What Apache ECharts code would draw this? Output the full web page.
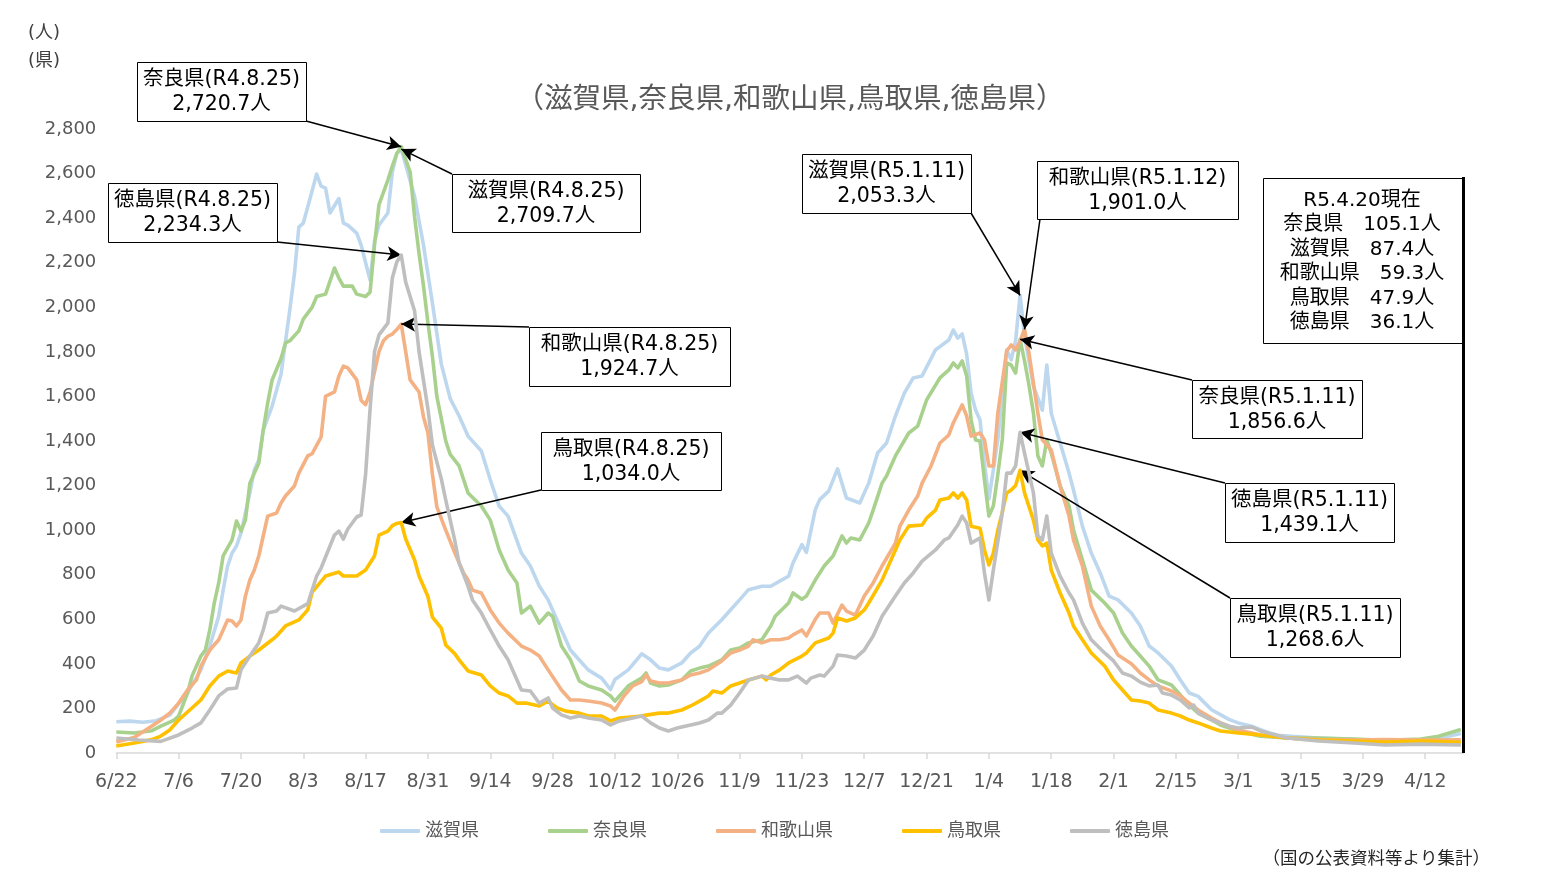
<!DOCTYPE html>
<html><head><meta charset="utf-8">
<script src="https://cdn.jsdelivr.net/npm/echarts/dist/echarts.min.js"></script>
<style>html,body{margin:0;padding:0;background:#fff}#c{width:1543px;height:877px}</style>
</head><body><div id="c"></div>
<script>
// ---------- data ----------
// x value = days since 2022-06-22 (R4.6.22)
const tickLabels = ['6/22','7/6','7/20','8/3','8/17','8/31','9/14','9/28','10/12','10/26','11/9','11/23','12/7','12/21','1/4','1/18','2/1','2/15','3/1','3/15','3/29','4/12'];
const seriesNames = ['滋賀県','奈良県','和歌山県','鳥取県','徳島県'];

const shiga = [[0,140],[3,143],[6,138],[9,145],[12,170],[14,220],[16,270],[19,373],[21,480],[23,614],[24,731],[25,839],[26,897],[27,929],[28,987],[30,1167],[31,1270],[32,1315],[33,1449],[35,1557],[37,1700],[39,1992],[40,2149],[41,2360],[42,2378],[43,2450],[45,2598],[46,2544],[47,2535],[48,2423],[50,2488],[51,2378],[52,2369],[54,2333],[55,2279],[56,2200],[57,2122],[58,2297],[59,2369],[61,2423],[62,2607],[63,2690],[64,2709.7],[65,2640],[67,2497],[69,2279],[71,2019],[73,1745],[75,1590],[77,1512],[79,1422],[82,1355],[84,1226],[86,1108],[88,1063],[91,897],[93,839],[95,749],[97,687],[100,552],[102,462],[104,417],[106,373],[109,336],[111,285],[112,330],[115,373],[118,445],[120,418],[122,381],[124,373],[127,404],[129,449],[131,479],[133,538],[136,598],[138,643],[140,687],[142,733],[145,748],[147,748],[149,771],[151,793],[152,853],[154,935],[155,900],[157,1092],[158,1137],[160,1175],[162,1275],[164,1144],[167,1122],[169,1211],[171,1346],[173,1391],[175,1512],[177,1615],[179,1683],[181,1692],[184,1809],[187,1853],[188,1898],[189,1862],[190,1880],[191,1790],[192,1615],[193,1539],[194,1494],[195,1300],[196,1140],[198,1405],[200,1809],[201,1764],[202,1850],[203,2053.3],[204,1871],[206,1646],[208,1539],[209,1741],[210,1525],[212,1391],[214,1256],[215,1180],[217,1018],[219,897],[221,808],[223,704],[225,687],[228,628],[230,570],[232,480],[234,449],[237,390],[239,328],[241,269],[243,254],[246,194],[248,172],[250,150],[252,135],[255,120],[257,105],[259,90],[261,80],[264,75],[270,67],[278,60],[285,52],[293,57],[298,70],[302,87.4]];

const nara = [[0,94],[4,90],[8,100],[10,121],[13,148],[14,166],[16,269],[17,345],[19,435],[20,462],[21,552],[22,673],[23,763],[24,884],[26,956],[27,1041],[28,996],[29,1045],[30,1211],[32,1300],[33,1449],[34,1570],[35,1674],[37,1770],[38,1840],[39,1850],[41,1894],[42,1947],[44,2001],[45,2048],[47,2059],[49,2176],[50,2131],[51,2095],[53,2095],[54,2059],[56,2048],[57,2068],[58,2279],[59,2461],[61,2571],[62,2634],[63,2690],[64,2720.7],[66,2607],[67,2405],[68,2241],[69,2095],[70,1930],[71,1780],[72,1600],[73,1500],[74,1400],[75,1340],[77,1288],[79,1167],[82,1108],[84,1045],[86,911],[88,821],[90,763],[91,628],[93,659],[95,583],[97,628],[98,614],[100,480],[102,418],[104,323],[106,301],[109,283],[111,256],[112,233],[113,256],[115,301],[118,336],[119,359],[120,314],[122,301],[124,305],[127,328],[129,368],[131,381],[133,390],[136,418],[138,462],[140,471],[142,494],[145,508],[147,570],[148,614],[151,673],[152,718],[154,690],[155,704],[157,776],[159,839],[161,884],[163,974],[164,942],[165,965],[167,956],[169,1032],[170,1090],[172,1211],[173,1243],[175,1333],[178,1436],[180,1467],[182,1584],[185,1683],[187,1719],[188,1750],[189,1728],[190,1759],[191,1692],[192,1494],[193,1405],[194,1400],[195,1225],[196,1063],[197,1108],[198,1250],[199,1405],[200,1750],[201,1741],[202,1705],[203,1856.6],[204,1760],[205,1650],[206,1525],[207,1333],[208,1288],[209,1405],[210,1346],[212,1198],[214,1108],[215,1001],[217,866],[219,731],[222,673],[224,628],[226,538],[228,480],[230,435],[232,390],[234,328],[237,305],[239,260],[241,215],[243,179],[246,148],[248,126],[252,99],[257,75],[263,67],[270,67],[278,63],[285,57],[293,63],[297,75],[302,105.1]];

const wakayama = [[0,49],[4,70],[8,121],[10,148],[12,179],[14,224],[16,283],[18,328],[19,390],[21,462],[23,508],[24,552],[25,597],[26,592],[27,570],[28,597],[29,704],[30,776],[31,821],[32,884],[34,1063],[36,1077],[37,1122],[38,1153],[40,1198],[41,1256],[43,1333],[44,1343],[46,1418],[47,1600],[49,1620],[50,1692],[51,1736],[52,1728],[54,1674],[55,1582],[56,1563],[57,1620],[59,1801],[60,1850],[61,1870],[62,1880],[63,1900],[64,1924.7],[65,1801],[66,1674],[68,1620],[69,1508],[70,1436],[71,1252],[72,1104],[74,1000],[76,900],[78,808],[79,776],[80,731],[82,718],[84,642],[86,583],[88,538],[91,480],[93,462],[95,435],[97,373],[100,283],[102,238],[104,238],[106,233],[109,224],[111,211],[112,193],[114,256],[116,301],[118,320],[119,350],[120,323],[122,314],[124,314],[127,328],[129,350],[131,359],[133,373],[136,413],[138,449],[140,462],[142,480],[143,508],[145,494],[147,508],[149,508],[151,516],[152,530],[154,552],[155,525],[157,600],[158,628],[160,628],[161,583],[163,664],[164,637],[166,619],[168,704],[170,763],[172,839],[175,942],[176,1018],[178,1090],[180,1153],[181,1211],[183,1288],[185,1391],[187,1427],[188,1481],[190,1562],[191,1512],[192,1422],[194,1436],[195,1405],[196,1288],[197,1288],[198,1525],[200,1804],[201,1831],[202,1809],[203,1849],[204,1901.0],[205,1795],[207,1525],[208,1405],[209,1382],[210,1360],[212,1198],[214,1063],[215,956],[217,839],[219,659],[221,570],[223,508],[225,440],[228,400],[230,359],[232,328],[234,301],[237,278],[239,256],[241,224],[243,193],[246,157],[248,135],[252,103],[257,81],[263,67],[270,60],[278,58],[285,60],[293,58],[302,59.3]];

const tottori = [[0,31],[4,45],[8,60],[10,76],[12,103],[14,148],[17,202],[19,238],[21,301],[23,345],[25,368],[27,359],[28,404],[30,435],[32,462],[35,508],[36,525],[38,570],[41,597],[43,642],[44,722],[47,794],[50,812],[51,794],[54,794],[56,821],[58,884],[59,978],[61,996],[62,1020],[63,1030],[64,1034.0],[65,960],[67,866],[68,794],[70,702],[71,610],[73,560],[74,485],[76,446],[77,418],[79,368],[82,350],[84,301],[86,269],[88,256],[90,224],[92,224],[95,211],[97,233],[99,202],[101,188],[104,179],[106,166],[109,166],[111,144],[113,157],[118,166],[119,170],[122,179],[124,179],[127,193],[129,211],[131,233],[133,256],[134,278],[136,269],[138,301],[140,314],[142,328],[145,345],[146,328],[147,350],[149,373],[151,404],[154,435],[155,449],[157,494],[160,516],[161,538],[162,606],[164,592],[166,606],[168,642],[169,673],[172,776],[174,866],[176,956],[178,1018],[181,1023],[182,1054],[184,1090],[185,1135],[187,1144],[188,1167],[189,1144],[190,1167],[191,1135],[192,1018],[194,1009],[195,911],[196,844],[197,897],[198,1000],[199,1080],[200,1167],[201,1180],[202,1200],[203,1268.6],[204,1167],[206,1045],[207,956],[208,929],[209,942],[210,821],[212,718],[214,628],[215,570],[217,508],[219,449],[222,390],[224,328],[226,283],[228,238],[230,233],[232,224],[234,193],[237,179],[239,166],[241,148],[243,135],[246,112],[248,99],[252,90],[257,81],[263,67],[270,58],[278,54],[285,49],[293,54],[302,47.9]];

const tokushima = [[0,67],[5,58],[10,52],[14,81],[17,112],[19,135],[21,193],[23,256],[25,287],[27,292],[28,373],[30,435],[32,494],[33,552],[34,628],[36,637],[37,659],[40,637],[42,659],[43,670],[45,794],[46,830],[49,978],[50,996],[51,960],[52,1005],[54,1059],[55,1068],[56,1252],[57,1543],[58,1801],[59,1876],[61,1929],[62,2131],[63,2203],[64,2234.3],[65,2113],[67,1983],[68,1801],[70,1543],[71,1382],[73,1230],[74,1135],[76,956],[77,852],[79,749],[80,687],[82,628],[84,552],[86,480],[88,418],[91,283],[93,278],[95,224],[97,247],[98,202],[100,171],[102,157],[104,166],[106,157],[109,148],[111,126],[113,144],[118,166],[120,135],[122,112],[124,99],[126,112],[129,126],[131,135],[133,148],[135,179],[136,179],[138,215],[140,269],[142,328],[145,345],[147,336],[149,328],[151,328],[153,345],[155,314],[156,336],[158,350],[159,345],[161,390],[162,440],[164,435],[166,426],[168,462],[170,525],[172,614],[175,704],[177,763],[179,808],[181,861],[184,911],[186,956],[187,965],[189,1023],[190,1063],[191,1032],[192,942],[194,965],[195,808],[196,687],[197,821],[199,1077],[200,1256],[201,1256],[202,1288],[203,1439.1],[204,1346],[206,1167],[207,974],[208,956],[209,1063],[210,897],[212,794],[214,718],[215,687],[217,583],[219,508],[222,449],[224,413],[226,359],[228,345],[230,318],[232,301],[234,305],[235,269],[237,260],[239,238],[241,202],[242,215],[243,179],[246,148],[248,135],[250,120],[252,112],[255,117],[257,99],[263,67],[270,54],[278,45],[285,36],[293,40],[302,36.1]];

// peak annotations: series index, day, value, date label
const noteSeries = [1,0,4,2,3,0,2,1,4,3];
const noteDays   = [64,64,64,64,64,203,204,203,203,203];
const noteValues = [2720.7,2709.7,2234.3,1924.7,1034.0,2053.3,1901.0,1856.6,1439.1,1268.6];
const noteDates  = ['R4.8.25','R4.8.25','R4.8.25','R4.8.25','R4.8.25','R5.1.11','R5.1.12','R5.1.11','R5.1.11','R5.1.11'];

// latest values box
const latestTitle = 'R5.4.20現在';
const latestNames = ['奈良県','滋賀県','和歌山県','鳥取県','徳島県'];
const latestValues = [105.1,87.4,59.3,47.9,36.1];
const lastDay = 302.6;

// ---------- layout / style ----------
const FONT = "'DejaVu Sans','Noto Sans CJK JP',sans-serif";
const colors = ['#BDD7EE','#A9D18E','#F4B183','#FFC000','#BFBFBF'];
const seriesData = [shiga, nara, wakayama, tottori, tokushima];
// box [left, top, right, bottom], arrow start [x,y]
const noteBoxes = [
  [137,62,306,121, 306,121],
  [452,174,640,232, 452,174],
  [108,183,277,242, 277,242],
  [529,327,730,386, 529,327],
  [541,432,721,490, 541,490],
  [802,154,971,213, 971,213],
  [1037,161,1238,219, 1040,219],
  [1192,380,1362,438, 1192,380],
  [1225,483,1394,542, 1225,483],
  [1230,598,1400,657, 1230,598]
];
const legendLefts = [380,548,716,902,1070];

const fmt1 = v => v.toLocaleString('en-US',{minimumFractionDigits:1,maximumFractionDigits:1});

const chart = echarts.init(document.getElementById('c'));

const series = seriesNames.map((name,i)=>{
  const ml = [];
  noteSeries.forEach((s,k)=>{
    if (s!==i) return;
    const b = noteBoxes[k];
    ml.push([{x:b[4], y:b[5], symbol:'none'}, {coord:[noteDays[k], noteValues[k]], symbol:'arrow', symbolSize:[11,14]}]);
  });
  return {
    name, type:'line', data: seriesData[i], showSymbol:false, symbol:'none',
    lineStyle:{color:colors[i], width:3.6, join:'round'}, itemStyle:{color:colors[i]},
    z: 2+i, silent:true,
    markLine: ml.length ? {silent:true, symbol:['none','arrow'], label:{show:false},
      lineStyle:{color:'#000', width:1.5, type:'solid'}, emphasis:{disabled:true}, animation:false, data: ml} : undefined
  };
});

const graphics = [];
// annotation boxes
noteBoxes.forEach((b,k)=>{
  graphics.push({type:'rect', z:100, shape:{x:b[0]+0.5,y:b[1]+0.5,width:b[2]-b[0],height:b[3]-b[1]}, style:{fill:'#fff',stroke:'#000',lineWidth:1}});
  graphics.push({type:'text', z:101, x:(b[0]+b[2])/2, y:(b[1]+b[3])/2+1,
    style:{text: seriesNames[noteSeries[k]]+'('+noteDates[k]+')\n'+fmt1(noteValues[k])+'人', font:'20.5px '+FONT, fill:'#000',
      align:'center', verticalAlign:'middle', textAlign:'center', textVerticalAlign:'middle', lineHeight:25}});
});
// latest box
graphics.push({type:'rect', z:100, shape:{x:1263.5,y:178.5,width:200,height:165}, style:{fill:'#fff',stroke:'#000',lineWidth:1}});
graphics.push({type:'text', z:101, x:1362, y:262,
  style:{text:[latestTitle].concat(latestNames.map((n,i)=>n+'\u3000'+fmt1(latestValues[i])+'人')).join('\n'),
    font:'20px '+FONT, fill:'#000', align:'center', verticalAlign:'middle', textAlign:'center', textVerticalAlign:'middle', lineHeight:24.5}});
// title, units, source
graphics.push({type:'text', x:790, y:101, style:{text:'（滋賀県,奈良県,和歌山県,鳥取県,徳島県）', font:'28.5px '+FONT, fill:'#595959', align:'center', verticalAlign:'middle', textAlign:'center', textVerticalAlign:'middle'}});
graphics.push({type:'text', x:28, y:33, style:{text:'(人)', font:'18px '+FONT, fill:'#404040', verticalAlign:'middle', textVerticalAlign:'middle'}});
graphics.push({type:'text', x:28, y:61, style:{text:'(県)', font:'18px '+FONT, fill:'#404040', verticalAlign:'middle', textVerticalAlign:'middle'}});
graphics.push({type:'text', x:1490, y:859, style:{text:'（国の公表資料等より集計）', font:'17.5px '+FONT, fill:'#262626', align:'right', verticalAlign:'middle', textAlign:'right', textVerticalAlign:'middle'}});

chart.setOption({
  animation:false,
  backgroundColor:'#fff',
  grid:{left:116.3, right:1543-1463.5, top:129, bottom:124, containLabel:false},
  xAxis:{type:'value', min:0, max:lastDay, interval:14,
    axisLine:{show:true, lineStyle:{color:'#D9D9D9', width:1.5}},
    axisTick:{show:true, length:6, lineStyle:{color:'#D9D9D9', width:1.5}},
    splitLine:{show:false},
    axisLabel:{color:'#595959', fontSize:19, fontFamily:FONT, margin:20, showMaxLabel:false,
      formatter: v => tickLabels[Math.round(v/14)] || ''}},
  yAxis:{type:'value', min:0, max:2800, interval:200,
    axisLine:{show:false}, axisTick:{show:false}, splitLine:{show:false},
    axisLabel:{color:'#595959', fontSize:18, fontFamily:FONT, margin:20,
      formatter: v => v.toLocaleString('en-US')}},
  legend: seriesNames.map((n,i)=>({data:[n], left:legendLefts[i], top:822, padding:0, icon:'roundRect', itemWidth:40, itemHeight:4, itemGap:0,
    textStyle:{color:'#595959', fontSize:18, fontFamily:FONT}, selectedMode:false})),
  series,
  graphic: graphics
});

// thick right-hand marker line, from the latest box down to the axis
const p0 = chart.convertToPixel({gridIndex:0},[lastDay,0]);
graphics.push({type:'line', z:102, shape:{x1:p0[0], y1:177, x2:p0[0], y2:p0[1]}, style:{stroke:'#000', lineWidth:3}});
chart.setOption({graphic: graphics});
</script>
</body></html>
